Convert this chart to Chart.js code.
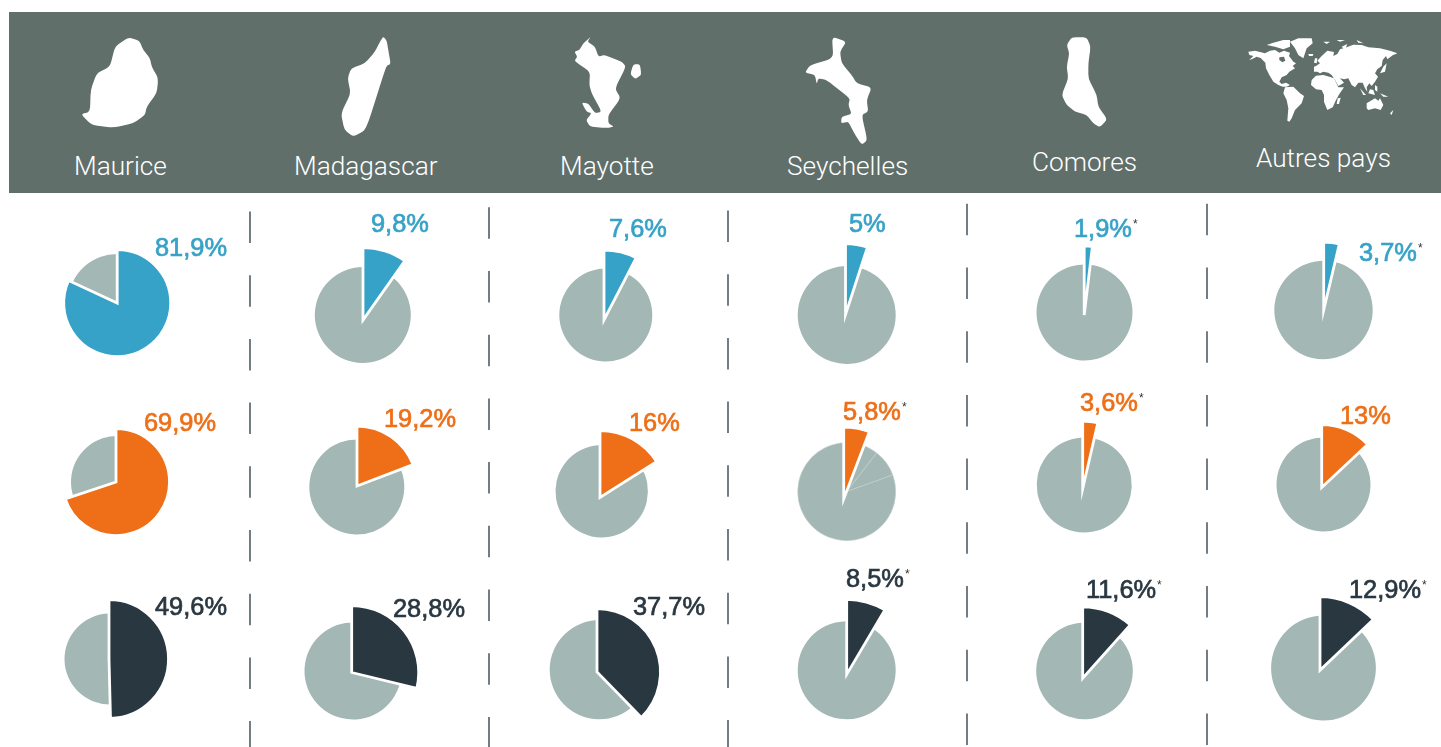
<!DOCTYPE html>
<html lang="fr"><head><meta charset="utf-8">
<script src="https://cdn.jsdelivr.net/npm/chart.js@4"></script>
<style>
html,body{margin:0;padding:0;background:#fff;width:1441px;height:747px;overflow:hidden}
#band{position:absolute;left:9px;top:12px;width:1432px;height:181px;background:#616f6b}
svg{position:absolute;left:0;top:0}
canvas{position:absolute}
.h,.v{position:absolute;white-space:nowrap;line-height:30px;height:30px}
.h{font-family:Roboto,sans-serif;font-weight:300;color:#fff;font-size:26.2px}
.v{font-family:"Liberation Sans",sans-serif;font-size:25.4px;-webkit-text-stroke:.7px currentColor}
.v sup{font-size:12px;line-height:0;vertical-align:9px;-webkit-text-stroke:0;color:#333;margin-left:1px}
</style></head><body>
<div id="band"></div>
<svg width="1441" height="747" fill="#fff">
<g id="islands"></g>
<g transform="translate(1240 30) scale(.33333)">
<path d="M25 65 45 62 60 66 75 70 90 62 105 60 118 68 132 62 150 68 147 78 160 95 168 100 158 108 165 115 148 125 140 135 125 142 118 155 125 162 138 158 150 165 140 170 128 170 115 165 100 155 88 135 78 115 76 98 62 84 50 80 35 88 28 90 40 78 28 75Z"/>
<path d="M80 45 100 38 130 30 150 30 150 50 130 58 105 50Z"/>
<path d="M150 35 175 25 215 25 218 40 200 55 190 85 175 75 165 55Z"/>
<path d="M205 72 220 72 218 78 207 78Z"/>
<path d="M135 172 160 170 180 190 192 198 185 220 165 240 155 265 148 275 142 272 145 235 140 210 130 190Z"/>
<path d="M215 150 228 137 250 135 268 140 282 145 295 172 312 172 298 192 288 210 278 232 262 240 252 215 252 195 245 180 228 178 213 165Z"/>
<path d="M293 205 302 203 297 222 290 222Z"/>
<path d="M228 108 240 100 232 92 245 78 262 62 282 66 280 78 292 72 300 58 320 52 340 44 365 45 385 52 420 55 450 62 472 70 458 76 442 88 438 78 428 90 425 108 412 118 405 130 414 140 405 155 395 168 388 160 380 172 382 185 375 175 368 158 355 158 345 172 335 165 325 145 312 148 300 145 312 158 295 168 285 150 275 135 265 128 250 125 240 130 232 125 222 125 222 110Z"/>
<path d="M225 85 232 85 230 100 222 98Z"/>
<path d="M360 175 378 195 370 195Z"/><path d="M385 190 405 195 400 180 390 178Z"/><path d="M420 190 445 200 430 200Z"/>
<path d="M430 110 440 100 435 125 420 130Z"/><path d="M405 165 412 170 412 185 405 180Z"/>
<path d="M380 220 405 205 415 212 420 205 430 225 422 240 405 235 385 240 380 235Z"/>
<path d="M450 250 460 240 455 255Z"/>
<path d="M250 35 270 35 260 42Z"/><path d="M290 30 315 30 300 35Z"/><path d="M305 50 322 42 315 60Z"/><path d="M350 30 370 40 355 38Z"/>
<path fill="#616f6b" d="M118 82 132 80 136 92 127 97 118 90Z"/>
</g>
<g id="seps" stroke="#4f5d66" stroke-width="1.6"></g>
</svg>
<script>
const categories = ["Maurice","Madagascar","Mayotte","Seychelles","Comores","Autres pays"];
const shareBlue   = [81.9, 9.8, 7.6, 5, 1.9, 3.7];
const shareOrange = [69.9, 19.2, 16, 5.8, 3.6, 13];
const shareDark   = [49.6, 28.8, 37.7, 8.5, 11.6, 12.9];
const restBlue   = [[18.1],[90.2],[92.4],[95],[98.1],[96.3]];
const restOrange = [[30.1],[80.8],[84],[4.7,9,80.5],[96.4],[87]];
const restDark   = [[50.4],[71.2],[62.3],[91.5],[88.4],[87.1]];
const noteBlue   = [0,0,0,0,1,1];
const noteOrange = [0,0,0,1,1,0];
const noteDark   = [0,0,0,1,1,1];

/* layout only: [grey cx, grey cy, grey r, wedge cx, wedge cy, wedge R, label x, label baseline] */
const layoutBlue = [
 [117,303,49, 117.2,303,53.5, 155,256],
 [362.8,315,48, 363,320,72.5, 371,232],
 [605.8,315,46.5, 604,320,70, 609,237],
 [846.7,315,49, 845.5,314.7,71, 849,232],
 [1084.5,312.5,48, 1084.2,315,69, 1074,237],
 [1323.5,310,49.2, 1323.7,310,67.8, 1359,261]];
const layoutOrange = [
 [117,482,46, 116,482,53.5, 144,431],
 [356.8,487,47.5, 357,486,60, 384,427],
 [601.7,491.3,46.2, 600,497.5,67, 629,431],
 [846.7,491.6,49, 843.7,499,72, 843,420],
 [1084.2,485,47.5, 1082.7,488.7,67.5, 1080,411],
 [1323.5,484.5,47, 1321.7,487.6,63, 1340,424]];
const layoutDark = [
 [110,659,45.5, 109,659,59.5, 155,615],
 [353,671,48.5, 351.7,672.5,67, 393,617],
 [599.3,669.7,49.6, 597,672,63.5, 633,615],
 [846.7,670.3,49, 846.7,674.4,75, 846,587],
 [1084.5,671,48.3, 1082.7,678.3,71.5, 1086,598],
 [1323.5,668,52.4, 1320,670.3,73.6, 1349,598]];
const headerPos = [[74,175],[294,175],[560,175],[787,175],[1032,171],[1256,167]];
const sepX = [250,489,728,967,1207];
const sepStart = [211.5,207.3,210.5,203.8,203.8];

/* header silhouettes, decoration traced at 3x */
const shapes = [
 [0,"385 112 418 122 430 150 450 175 455 200 475 235 470 280 440 320 435 345 400 370 340 383 275 375 243 343 270 335 272 270 290 220 330 200 345 140"],
 [0,"1150 110 1160 122 1165 150 1172 192 1160 197 1150 225 1098 390 1060 410 1033 390 1023 340 1052 280 1043 235 1053 205 1095 190 1125 155 1140 125"],
 [480,"333 110 310 130 298 150 283 155 292 170 283 183 330 215 328 255 335 280 365 335 345 340 325 310 305 308 320 335 335 340 318 360 330 380 380 384 402 380 385 370 385 345 422 295 405 265 438 200 425 185 372 165 355 170 345 140 322 125"],
 [480,"460 193 480 193 484 225 465 237 451 222"],
 [480,"1056 110 1099 125 1080 155 1085 190 1115 225 1130 250 1175 262 1160 300 1165 335 1145 345 1162 420 1145 435 1120 395 1105 365 1083 370 1085 350 1115 342 1105 315 1110 295 1040 240 1015 235 1010 252 1005 225 975 218 990 195 1060 175"],
 [960,"335 112 380 112 392 140 385 190 385 235 410 285 415 320 442 358 420 382 400 370 380 345 345 335 320 315 305 285 325 235 320 200 328 160 320 135"]];
const SVGNS="http://www.w3.org/2000/svg";
const islands=document.getElementById("islands");
const CUT=.28;
shapes.forEach(([dx,s])=>{
  const n=s.split(" ").map(v=>+v), P=[];
  for(let i=0;i<n.length;i+=2)P.push([(n[i]+dx*3)/3,n[i+1]/3]);
  let d="";
  P.forEach((p,i)=>{
    const a=P[(i-1+P.length)%P.length], b=P[(i+1)%P.length];
    const sx=p[0]+(a[0]-p[0])*CUT, sy=p[1]+(a[1]-p[1])*CUT, ex=p[0]+(b[0]-p[0])*CUT, ey=p[1]+(b[1]-p[1])*CUT;
    d+=`${i?"L":"M"}${sx} ${sy}Q${p[0]} ${p[1]} ${ex} ${ey}`;
  });
  const e=document.createElementNS(SVGNS,"path");e.setAttribute("d",d+"Z");islands.appendChild(e);
});

const BLUE="#37a2c7", ORANGE="#ee6f17", DARK="#293741", GREY="#a3b7b5";
const CW=240, CH=220;

const seps=document.getElementById("seps");
sepX.forEach((x,i)=>{
  const l=document.createElementNS(SVGNS,"line");
  l.setAttribute("x1",x);l.setAttribute("x2",x);l.setAttribute("y1",sepStart[i]);l.setAttribute("y2",747);
  l.setAttribute("stroke-dasharray","31.5 32.2");seps.appendChild(l);
});
categories.forEach((c,i)=>{
  const d=document.createElement("div");d.className="h";d.textContent=c;
  d.style.left=headerPos[i][0]+"px";d.style.top=(headerPos[i][1]-23.7)+"px";document.body.appendChild(d);
});

const placeArcs={id:"placeArcs",
  afterDatasetsUpdate(chart,args,o){
    const arcs=chart.getDatasetMeta(0).data, n=arcs.length-1, L=o.L;
    arcs.forEach((a,i)=>{
      if(i===n){a.x=L[3]-o.left;a.y=L[4]-o.top;a.outerRadius=L[5];}
      else{a.x=L[0]-o.left;a.y=L[1]-o.top;a.outerRadius=L[2];}
      a.innerRadius=0;
    });
    /* the grey disc continues underneath the coloured wedge */
    arcs[n-1].endAngle=arcs[0].startAngle+Math.PI*2;
    arcs[n-1].circumference=arcs[n-1].endAngle-arcs[n-1].startAngle;
  }};

const labelsLater=[];
function addPie(value,rest,color,L,note){
  const cv=document.createElement("canvas");
  const left=Math.round(L[0]-CW/2), top=Math.round(L[1]-CH/2);
  cv.width=CW;cv.height=CH;cv.style.left=left+"px";cv.style.top=top+"px";
  document.body.appendChild(cv);
  new Chart(cv,{type:"pie",plugins:[placeArcs],
    data:{labels:[...rest.map(()=>"Autres"),"Part"],datasets:[{
      data:[...rest,value],
      backgroundColor:[...rest.map(()=>GREY),color],
      borderColor:[...rest.map(()=>rest.length>1?"#c4d1cf":GREY),"#fff"],
      borderWidth:[...rest.map(()=>rest.length>1?.6:0),2.8],
      borderJoinStyle:"miter",borderAlign:"center"}]},
    options:{responsive:false,animation:false,events:[],rotation:value*3.6,
      plugins:{legend:{display:false},tooltip:{enabled:false},placeArcs:{L,left,top}}}});
  const d=document.createElement("div");d.className="v";d.style.color=color;
  d.textContent=String(value).replace(".",",")+"%";
  if(note){const s=document.createElement("sup");s.textContent="*";d.appendChild(s);}
  d.style.left=L[6]+"px";d.style.top=(L[7]-23.7)+"px";
  labelsLater.push(d);
}
categories.forEach((c,i)=>{
  addPie(shareBlue[i],restBlue[i],BLUE,layoutBlue[i],noteBlue[i]);
  addPie(shareOrange[i],restOrange[i],ORANGE,layoutOrange[i],noteOrange[i]);
  addPie(shareDark[i],restDark[i],DARK,layoutDark[i],noteDark[i]);
});
labelsLater.forEach(d=>document.body.appendChild(d));
</script>
</body></html>
